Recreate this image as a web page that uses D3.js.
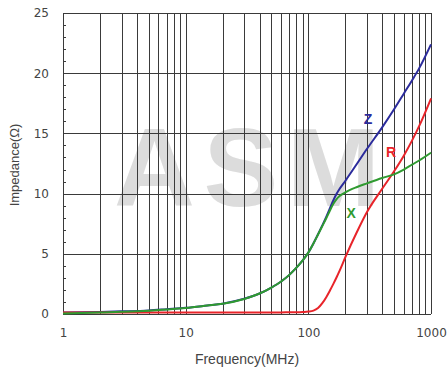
<!DOCTYPE html>
<html>
<head>
<meta charset="utf-8">
<script src="https://cdn.jsdelivr.net/npm/d3@7"></script>
<style>
  html, body { margin: 0; padding: 0; background: #fff; }
  svg { display: block; }
</style>
</head>
<body>
<svg id="chart" width="447" height="372"></svg>
<script>
// Frequency sample points (MHz)
const freq = [1, 2, 3, 5, 7, 10, 15, 20, 30, 40, 50, 60, 70, 80, 90, 100,
              110, 120, 130, 140, 150, 160, 170, 180, 200, 250, 300, 400, 500, 600, 700, 800, 1000];
// Reactance X (Ω)
const xVals = [0.05, 0.12, 0.18, 0.28, 0.38, 0.5, 0.7, 0.85, 1.25, 1.7, 2.2, 2.7, 3.25, 3.85, 4.45, 5.1,
               5.85, 6.6, 7.3, 7.95, 8.6, 9.15, 9.55, 9.8, 10.1, 10.55, 10.85, 11.3, 11.6, 12.0, 12.4, 12.75, 13.4];
// Resistance R (Ω)
const rVals = [0.12, 0.12, 0.12, 0.12, 0.12, 0.12, 0.12, 0.12, 0.12, 0.12, 0.12, 0.13, 0.14, 0.15, 0.17, 0.2,
               0.28, 0.5, 0.9, 1.4, 1.95, 2.5, 3.05, 3.6, 4.7, 6.85, 8.45, 10.4, 11.85, 13.15, 14.4, 15.6, 17.9];
// Impedance |Z| (Ω)
const zVals = [0.13, 0.17, 0.22, 0.3, 0.4, 0.51, 0.71, 0.86, 1.26, 1.7, 2.2, 2.7, 3.25, 3.85, 4.45, 5.1,
               5.86, 6.62, 7.36, 8.07, 8.8, 9.45, 9.98, 10.4, 11.05, 12.5, 13.7, 15.5, 17.0, 18.3, 19.4, 20.4, 22.4];

const yTicks = [0, 5, 10, 15, 20, 25];
const xTicks = [1, 10, 100, 1000];

const svg = d3.select("#chart");
const margin = { left: 63, right: 16, top: 13, bottom: 58 };
const W = 447, H = 372;

const x = d3.scaleLog().domain([1, 1000]).range([margin.left, W - margin.right]);
const y = d3.scaleLinear().domain([0, 25]).range([H - margin.bottom, margin.top]);

// watermark
svg.append("text")
  .attr("x", 114).attr("y", 206)
  .attr("font-family", "Liberation Sans, Arial, sans-serif")
  .attr("font-weight", "bold")
  .attr("font-size", 112)
  .attr("textLength", 266)
  .attr("lengthAdjust", "spacing")
  .attr("fill", "#d6d6d6")
  .attr("fill-opacity", 0.85)
  .text("ASM");

// vertical grid (every decade subdivision)
const gridX = [];
for (let d = 1; d < 1000; d *= 10) for (let k = 1; k < 10; k++) gridX.push(d * k);
gridX.push(1000);

const grid = svg.append("g").attr("stroke", "#3a3a3a").attr("stroke-width", 1).attr("shape-rendering", "crispEdges");
grid.selectAll("line.v").data(gridX).join("line")
  .attr("class", "v")
  .attr("x1", d => Math.round(x(d)) + 0.5).attr("x2", d => Math.round(x(d)) + 0.5)
  .attr("y1", y(25)).attr("y2", y(0));
grid.selectAll("line.h").data(yTicks).join("line")
  .attr("class", "h")
  .attr("x1", x(1)).attr("x2", x(1000))
  .attr("y1", d => Math.round(y(d)) + 0.5).attr("y2", d => Math.round(y(d)) + 0.5);

// minor ticks on the impedance axis
const minor = d3.range(0, 26).filter(v => v % 5 !== 0);
grid.selectAll("line.m").data(minor).join("line")
  .attr("class", "m")
  .attr("x1", x(1)).attr("x2", x(1) + 3)
  .attr("y1", d => Math.round(y(d)) + 0.5).attr("y2", d => Math.round(y(d)) + 0.5);

// axes labels
const yAxis = d3.axisLeft(y).tickValues(yTicks).tickSize(0).tickPadding(14);
const gy = svg.append("g").attr("transform", `translate(${x(1)},0)`).call(yAxis);
gy.select(".domain").remove();
gy.selectAll("text").attr("font-family", "DejaVu Sans, sans-serif").attr("font-size", 12).attr("fill", "#444");

const xAxis = d3.axisBottom(x).tickValues(xTicks).tickFormat(d3.format("d")).tickSize(0).tickPadding(14);
const gx = svg.append("g").attr("transform", `translate(0,${y(0)})`).call(xAxis);
gx.select(".domain").remove();
gx.selectAll("text").attr("font-family", "DejaVu Sans, sans-serif").attr("font-size", 12).attr("fill", "#444");

svg.append("text")
  .attr("x", 247).attr("y", 364)
  .attr("text-anchor", "middle")
  .attr("font-family", "Liberation Sans, Arial, sans-serif")
  .attr("font-size", 14).attr("fill", "#444")
  .text("Frequency(MHz)");

svg.append("text")
  .attr("transform", "translate(19,165) rotate(-90)")
  .attr("text-anchor", "middle")
  .attr("font-family", "Liberation Sans, Arial, sans-serif")
  .attr("font-size", 13).attr("fill", "#444")
  .text("Impedance(Ω)");

// curves
const line = d3.line().x(d => x(d[0])).y(d => y(d[1])).curve(d3.curveMonotoneX);
const series = [
  { name: "Z", vals: zVals, color: "#2b2b9c" },
  { name: "R", vals: rVals, color: "#e8242a" },
  { name: "X", vals: xVals, color: "#2f9a30" }
];
svg.append("g").selectAll("path").data(series).join("path")
  .attr("d", s => line(freq.map((f, i) => [f, s.vals[i]])))
  .attr("fill", "none")
  .attr("stroke", s => s.color)
  .attr("stroke-width", 2);

// curve labels
const labels = [
  { t: "Z", f: 306, v: 15.8, color: "#2b2b9c" },
  { t: "R", f: 472, v: 13.05, color: "#e8242a" },
  { t: "X", f: 223, v: 8.0, color: "#2f9a30" }
];
svg.append("g").selectAll("text").data(labels).join("text")
  .attr("x", d => x(d.f)).attr("y", d => y(d.v))
  .attr("text-anchor", "middle")
  .attr("font-family", "Liberation Sans, Arial, sans-serif")
  .attr("font-weight", "bold")
  .attr("font-size", 14)
  .attr("fill", d => d.color)
  .text(d => d.t);
</script>
</body>
</html>
